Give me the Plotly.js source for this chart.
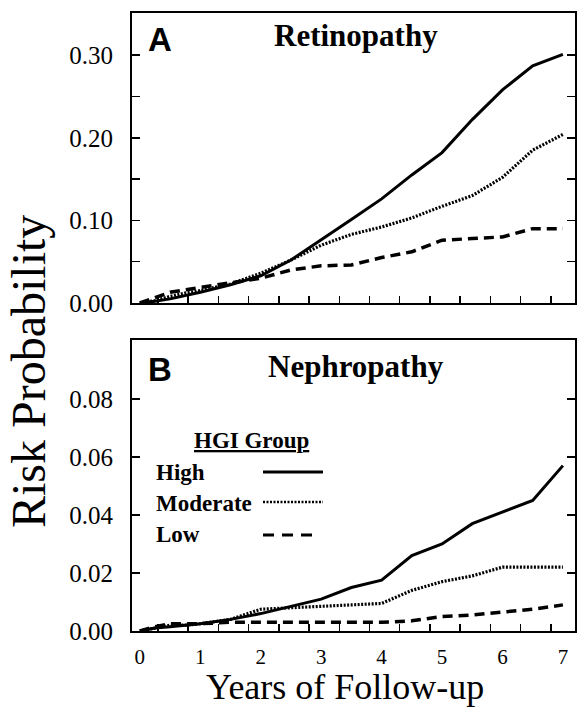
<!DOCTYPE html>
<html>
<head>
<meta charset="utf-8">
<script src="https://cdn.plot.ly/plotly-3.0.1.min.js"></script>
<style>
  html, body { margin: 0; padding: 0; background: #fff; }
  #chart { width: 577px; height: 707px; }
</style>
</head>
<body>
<div id="chart"></div>
<script>
// ---- data ----
const years = [0, 0.25, 0.5, 0.75, 1, 1.5, 2, 2.5, 3, 3.5, 4, 4.5, 5, 5.5, 6, 6.5, 7];

const retinoHigh     = [0, 0.002, 0.005, 0.009, 0.013, 0.022, 0.033, 0.052, 0.076, 0.101, 0.126, 0.155, 0.182, 0.222, 0.258, 0.287, 0.301];
const retinoModerate = [0, 0.003, 0.008, 0.012, 0.015, 0.023, 0.036, 0.052, 0.070, 0.083, 0.092, 0.103, 0.117, 0.130, 0.152, 0.185, 0.204];
const retinoLow      = [0, 0.006, 0.013, 0.016, 0.019, 0.025, 0.030, 0.040, 0.045, 0.046, 0.055, 0.062, 0.076, 0.078, 0.080, 0.090, 0.090];

const nephroHigh     = [0, 0.001, 0.0015, 0.002, 0.0025, 0.004, 0.006, 0.0085, 0.011, 0.015, 0.0175, 0.026, 0.030, 0.037, 0.041, 0.045, 0.057];
const nephroModerate = [0, 0.001, 0.002, 0.002, 0.0025, 0.004, 0.0075, 0.008, 0.0085, 0.009, 0.0095, 0.014, 0.017, 0.019, 0.022, 0.022, 0.022];
const nephroLow      = [0, 0.0015, 0.0025, 0.0025, 0.0025, 0.003, 0.003, 0.003, 0.003, 0.003, 0.003, 0.0035, 0.005, 0.0055, 0.0065, 0.0075, 0.009];

const groupNames = ['High', 'Moderate', 'Low'];
const xTickVals = [0, 1, 2, 3, 4, 5, 6, 7];
const xTickText = ['0', '1', '2', '3', '4', '5', '6', '7'];
const yTickValsA = [0, 0.05, 0.10, 0.15, 0.20, 0.25, 0.30];
const yTickTextA = ['0.00', '', '0.10', '', '0.20', '', '0.30'];
const yTickValsB = [0, 0.02, 0.04, 0.06, 0.08];
const yTickTextB = ['0.00', '0.02', '0.04', '0.06', '0.08'];

// ---- styles ----
const SERIF = 'Liberation Serif, Times New Roman, serif';
const SANS = 'Liberation Sans, Arial, sans-serif';
const lineStyles = [
  { color: '#000', width: 3, dash: 'solid' },
  { color: '#000', width: 3.2, dash: '2px,1.5px' },
  { color: '#000', width: 3.5, dash: '10px,6px' }
];

function mk(x, y, i, xa, ya) {
  return { x: x, y: y, type: 'scatter', mode: 'lines', name: groupNames[i],
           line: lineStyles[i], xaxis: xa, yaxis: ya, showlegend: false, hoverinfo: 'skip' };
}

const traces = [
  mk(years, retinoHigh, 0, 'x', 'y'),
  mk(years, retinoModerate, 1, 'x', 'y'),
  mk(years, retinoLow, 2, 'x', 'y'),
  mk(years, nephroHigh, 0, 'x2', 'y2'),
  mk(years, nephroModerate, 1, 'x2', 'y2'),
  mk(years, nephroLow, 2, 'x2', 'y2')
];

const L = 132, R = 2, T = 13, B = 76, W = 577, H = 707;
const pw = W - L - R, ph = H - T - B;
const px = v => (v - L) / pw;
const py = v => (H - B - v) / ph;

const xBase = {
  range: [-0.13, 7.2], showgrid: false, zeroline: false,
  showline: true, linecolor: '#000', linewidth: 2, mirror: true,
  ticks: '', tickmode: 'array', tickvals: xTickVals, ticktext: xTickText,
  minor: { tick0: 0.3, dtick: 0.5, ticks: 'inside', ticklen: 7, tickwidth: 1.5, tickcolor: '#000', showgrid: false },
  tickfont: { family: SERIF, size: 21, color: '#000' }
};
const yBase = {
  showgrid: false, zeroline: false, showline: true, linecolor: '#000', linewidth: 2,
  mirror: 'ticks', ticks: 'inside', ticklen: 8, tickwidth: 1.5, tickcolor: '#000',
  tickmode: 'array', tickfont: { family: SERIF, size: 25, color: '#000' },
  ticklabelstandoff: 12
};

const layout = {
  width: W, height: H,
  margin: { l: L, r: R, t: T, b: B },
  paper_bgcolor: '#fff', plot_bgcolor: '#fff',
  showlegend: false,
  font: { family: SERIF, color: '#000' },
  xaxis: Object.assign({}, xBase, { anchor: 'y', showticklabels: false, matches: 'x2' }),
  xaxis2: Object.assign({}, xBase, { anchor: 'y2', showticklabels: true, ticklabelstandoff: 6 }),
  yaxis: Object.assign({}, yBase, { domain: [py(303), 1], range: [0, 0.351], tickvals: yTickValsA, ticktext: yTickTextA }),
  yaxis2: Object.assign({}, yBase, { domain: [0, py(340)], range: [0, 0.1003], tickvals: yTickValsB, ticktext: yTickTextB }),
  annotations: [
    { text: 'Years of Follow-up', xref: 'paper', yref: 'paper', x: px(345), y: py(709), xanchor: 'center', yanchor: 'bottom',
      showarrow: false, font: { family: SERIF, size: 36, color: '#000' } },
    { text: 'Risk Probability', xref: 'paper', yref: 'paper', x: px(28), y: py(372), textangle: -90,
      showarrow: false, xanchor: 'center', yanchor: 'middle', font: { family: SERIF, size: 48, color: '#000' } },
    { text: '<b>A</b>', xref: 'paper', yref: 'paper', x: px(146), y: py(40), xanchor: 'left', yanchor: 'middle',
      showarrow: false, font: { family: SANS, size: 33, color: '#000' } },
    { text: '<b>Retinopathy</b>', xref: 'paper', yref: 'paper', x: px(356), y: py(36), xanchor: 'center', yanchor: 'middle',
      showarrow: false, font: { family: SERIF, size: 31, color: '#000' } },
    { text: '<b>B</b>', xref: 'paper', yref: 'paper', x: px(146), y: py(369), xanchor: 'left', yanchor: 'middle',
      showarrow: false, font: { family: SANS, size: 33, color: '#000' } },
    { text: '<b>Nephropathy</b>', xref: 'paper', yref: 'paper', x: px(356), y: py(366), xanchor: 'center', yanchor: 'middle',
      showarrow: false, font: { family: SERIF, size: 31, color: '#000' } },
    { text: '<b><u>HGI Group</u></b>', xref: 'paper', yref: 'paper', x: px(251), y: py(440), xanchor: 'center', yanchor: 'middle',
      showarrow: false, font: { family: SERIF, size: 23, color: '#000' } },
    { text: '<b>' + groupNames[0] + '</b>', xref: 'paper', yref: 'paper', x: px(154), y: py(472), xanchor: 'left', yanchor: 'middle',
      showarrow: false, font: { family: SERIF, size: 23, color: '#000' } },
    { text: '<b>' + groupNames[1] + '</b>', xref: 'paper', yref: 'paper', x: px(154), y: py(503), xanchor: 'left', yanchor: 'middle',
      showarrow: false, font: { family: SERIF, size: 23, color: '#000' } },
    { text: '<b>' + groupNames[2] + '</b>', xref: 'paper', yref: 'paper', x: px(154), y: py(534), xanchor: 'left', yanchor: 'middle',
      showarrow: false, font: { family: SERIF, size: 23, color: '#000' } }
  ],
  shapes: [
    { type: 'line', xref: 'paper', yref: 'paper', x0: px(263), x1: px(323), y0: py(472), y1: py(472), line: lineStyles[0] },
    { type: 'line', xref: 'paper', yref: 'paper', x0: px(263), x1: px(323), y0: py(502), y1: py(502), line: { color: '#000', width: 2.5, dash: '2px,1.5px' } },
    { type: 'line', xref: 'paper', yref: 'paper', x0: px(263), x1: px(318), y0: py(535), y1: py(535), line: { color: '#000', width: 3, dash: '11px,8px' } }
  ]
};

Plotly.newPlot('chart', traces, layout, { staticPlot: true, displayModeBar: false });
</script>
</body>
</html>
